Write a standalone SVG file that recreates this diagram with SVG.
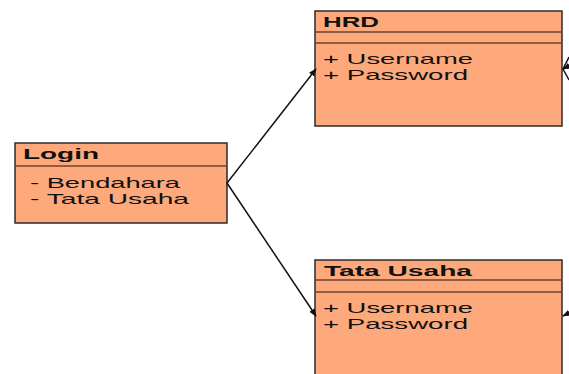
<svg xmlns="http://www.w3.org/2000/svg" width="569" height="374" viewBox="0 0 569 374">
<style>
.box{fill:#FDA97C;stroke:#2b2b2b;stroke-width:1.5}
.div{stroke:#6b4330;stroke-width:1.3}
.t{font-family:"Liberation Sans",Arial,sans-serif;font-weight:bold;font-size:14px;fill:#111}
.a{font-family:"Liberation Sans",Arial,sans-serif;font-size:15px;fill:#111}
.c{stroke:#111;stroke-width:1.5;fill:none}
</style>
<defs>
<marker id="arr" viewBox="0 0 10 10" refX="9" refY="5" markerWidth="8" markerHeight="8" orient="auto" markerUnits="userSpaceOnUse">
<path d="M0,1 L10,5 L0,9 Z" fill="#111"/>
</marker>
</defs>
<rect width="569" height="374" fill="#fff"/>
<g id="login">
<rect class="box" x="15" y="143" width="212" height="80"/>
<line class="div" x1="15" y1="166" x2="227" y2="166"/>
<text class="t" x="23" y="159" textLength="76" lengthAdjust="spacingAndGlyphs">Login</text>
<text class="a" x="30" y="188" textLength="150" lengthAdjust="spacingAndGlyphs">- Bendahara</text>
<text class="a" x="30" y="204" textLength="159" lengthAdjust="spacingAndGlyphs">- Tata Usaha</text>
</g>
<g id="hrd">
<rect class="box" x="315" y="11" width="247" height="115"/>
<line class="div" x1="315" y1="32" x2="562" y2="32"/>
<line class="div" x1="315" y1="43" x2="562" y2="43"/>
<text class="t" x="323" y="27" textLength="56" lengthAdjust="spacingAndGlyphs">HRD</text>
<text class="a" x="323" y="64" textLength="150" lengthAdjust="spacingAndGlyphs">+ Username</text>
<text class="a" x="323" y="80" textLength="145" lengthAdjust="spacingAndGlyphs">+ Password</text>
</g>
<g id="tatausaha">
<rect class="box" x="315" y="260" width="247" height="130"/>
<line class="div" x1="315" y1="280" x2="562" y2="280"/>
<line class="div" x1="315" y1="292" x2="562" y2="292"/>
<text class="t" x="324" y="276" textLength="148" lengthAdjust="spacingAndGlyphs">Tata Usaha</text>
<text class="a" x="323" y="313" textLength="150" lengthAdjust="spacingAndGlyphs">+ Username</text>
<text class="a" x="323" y="329" textLength="145" lengthAdjust="spacingAndGlyphs">+ Password</text>
</g>
<g id="connectors">
<line class="c" x1="227" y1="183" x2="316" y2="69" marker-end="url(#arr)"/>
<line class="c" x1="227" y1="183" x2="316" y2="316" marker-end="url(#arr)"/>
<line class="c" x1="569" y1="57" x2="563" y2="69"/>
<line class="c" x1="569" y1="66" x2="563" y2="69" marker-end="url(#arr)"/>
<line class="c" x1="569" y1="80" x2="563" y2="69"/>
<line class="c" x1="569" y1="313" x2="563" y2="316" marker-end="url(#arr)"/>
</g>
</svg>
